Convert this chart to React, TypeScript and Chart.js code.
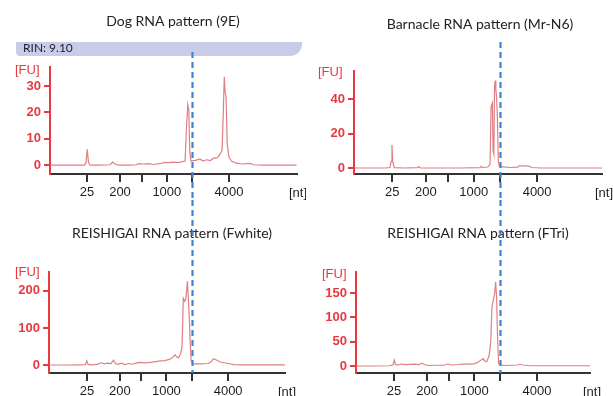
import React, { useEffect, useRef } from "react";
import { Chart, registerables } from "chart.js";

Chart.register(...registerables);

// ---- ladder (migration time positions of the size markers) ----
const LADDER_TIME = [26.5, 33.2, 37.6, 42.7, 47.9, 55.3];
const LADDER_LABELS = ["25", "200", "", "1000", "", "4000"];
const MARKER_INDEX = 4;

// ---- Dog RNA pattern (9E) ----
const DOG_T = [19.0, 22, 25, 26.0, 26.3, 26.55, 26.8, 27.1, 29, 31.2, 31.7, 32.3, 33, 35, 36.5, 37.0, 38, 39, 40, 41.5, 42.3, 43, 43.9, 45, 46.4, 46.7, 46.95, 47.15, 47.35, 47.6, 47.9, 48.5, 49.4, 50, 50.8, 51.5, 52.2, 53, 53.6, 53.9, 54.15, 54.35, 54.5, 54.7, 54.95, 55.3, 55.8, 56.8, 58, 59.6, 60.2, 62, 65, 69];
const DOG_FU = [0, 0, 0, 0, 1, 6, 1, 0, 0, 0.1, 1.1, 0.2, 0, 0, 0.1, 0.5, 0.4, 0.5, 0.2, 0.6, 1.0, 0.9, 1.1, 0.9, 1.5, 15, 23, 21, 5, 1.5, 1.7, 1.8, 2.3, 1.5, 2.0, 1.7, 2.6, 2.8, 4.5, 5.5, 20, 33.5, 28, 26, 8, 3, 1.5, 0.7, 0.4, 0.6, 0.1, 0, 0, 0];
const DOG_Y_TICKS = [0, 10, 20, 30];

// ---- Barnacle RNA pattern (Mr-N6) ----
const BARN_T = [19.1, 22, 25, 26.05, 26.3, 26.45, 26.6, 26.9, 29, 31.5, 31.75, 32.1, 35, 40, 44.0, 44.25, 44.5, 45.5, 45.95, 46.15, 46.4, 46.55, 46.7, 46.85, 46.98, 47.1, 47.25, 47.4, 47.6, 47.85, 50, 51.5, 51.7, 53.0, 53.8, 54.2, 56, 62, 68.3];
const BARN_FU = [0, 0, 0, 0.3, 4, 13.4, 4, 0.2, 0, 0.2, 0.9, 0.1, 0, 0, 0.2, 1.0, 0.3, 0.6, 2, 36, 38, 10, 8, 48, 51, 46, 41, 30, 3, 0.8, 0.3, 0.5, 1.2, 1.2, 1.0, 0.3, 0, 0, 0];
const BARN_Y_TICKS = [0, 20, 40];

// ---- REISHIGAI RNA pattern (Fwhite) ----
const FWHITE_T = [18.7, 22, 25, 26.2, 26.45, 26.7, 27.2, 28.5, 29.5, 30, 30.7, 31.4, 31.9, 32.3, 32.8, 33.5, 34.2, 35, 35.7, 36.5, 37.3, 38.2, 39.4, 40.5, 41.5, 42.4, 43.3, 44.0, 44.45, 44.8, 45.15, 45.6, 45.9, 46.15, 46.45, 46.7, 46.99, 47.2, 47.4, 47.55, 47.75, 48.2, 49.6, 51.2, 51.8, 52.3, 52.8, 53.7, 55.3, 56.5, 58, 62, 67];
const FWHITE_FU = [0, 0, 0.5, 1, 11, 2, 0.5, 1.5, 6, 3, 5, 4, 13, 4, 2, 5, 1, 4, 2, 5, 7, 6, 7, 9, 11, 12, 15, 20, 28, 22, 19, 30, 50, 180, 172, 180, 226, 175, 120, 60, 12, 3, 3, 4, 8, 17, 14, 8, 4, 1, 0.5, 0.5, 0.5];
const FWHITE_Y_TICKS = [0, 100, 200];

// ---- REISHIGAI RNA pattern (FTri) ----
const FTRI_T = [18.7, 22, 25.5, 26.3, 26.55, 26.8, 27.2, 28, 29, 30.5, 31.5, 32.2, 32.6, 33.5, 35, 36.5, 37.4, 38, 39.5, 40.5, 41.8, 42.8, 43.5, 44.0, 44.5, 44.8, 45.2, 45.7, 46.0, 46.25, 46.5, 46.78, 46.98, 47.18, 47.38, 47.58, 47.85, 49, 51.5, 51.9, 52.4, 54, 58, 66];
const FTRI_FU = [0, 0, 0.5, 2, 12, 3, 2, 4, 3, 4, 3, 6, 3, 1, 1.5, 1.5, 4, 2, 3, 4, 4, 5, 8, 12, 15, 10, 9, 22, 50, 122, 135, 149, 173, 142, 57, 5, 2, 1, 2, 4, 2, 0.5, 0.5, 0.5];
const FTRI_Y_TICKS = [0, 50, 100, 150];

const RED = "#e8393f";
const TRACE = "rgba(218, 104, 110, 0.85)";
const DARK = "#1e1e1e";
const BLUE = "#4282d2";
const TICK_FONT = "'Liberation Sans Narrow', 'Liberation Sans', Arial, sans-serif";
const TITLE_FONT = "Lato, 'Open Sans', sans-serif";

type PanelDef = {
  title: string;
  t: number[];
  fu: number[];
  yTicks: number[];
  yMin: number;
  yMax: number;
  xMin: number;
  xMax: number;
  box: { left: number; top: number; width: number; height: number };
  area: { left: number; top: number; right: number; bottom: number };
  titlePos: [number, number];
  fuPos: [number, number];
  ntPos: [number, number];
  dashFrom: number;
  dashToArea: boolean;
  rin?: string;
};

const PANELS: PanelDef[] = [
  {
    title: "Dog RNA pattern (9E)",
    t: DOG_T, fu: DOG_FU, yTicks: DOG_Y_TICKS,
    yMin: -3.4, yMax: 37.2, xMin: 19.0, xMax: 69.1,
    box: { left: 0, top: 0, width: 306, height: 200 },
    area: { left: 50, top: 67, right: 297, bottom: 174 },
    titlePos: [173, 21], fuPos: [15, 70], ntPos: [289, 193],
    dashFrom: 52, dashToArea: false, rin: "RIN: 9.10",
  },
  {
    title: "Barnacle RNA pattern (Mr-N6)",
    t: BARN_T, fu: BARN_FU, yTicks: BARN_Y_TICKS,
    yMin: -3.5, yMax: 56.6, xMin: 18.9, xMax: 68.2,
    box: { left: 306, top: 0, width: 307, height: 200 },
    area: { left: 48, top: 71, right: 296, bottom: 174 },
    titlePos: [174, 24], fuPos: [12, 72], ntPos: [289, 193],
    dashFrom: 42, dashToArea: false,
  },
  {
    title: "REISHIGAI RNA pattern (Fwhite)",
    t: FWHITE_T, fu: FWHITE_FU, yTicks: FWHITE_Y_TICKS,
    yMin: -21.6, yMax: 251, xMin: 18.75, xMax: 66.9,
    box: { left: 0, top: 200, width: 306, height: 196 },
    area: { left: 49, top: 72, right: 285, bottom: 173 },
    titlePos: [172, 33], fuPos: [15, 72], ntPos: [278, 192],
    dashFrom: 0, dashToArea: true,
  },
  {
    title: "REISHIGAI RNA pattern (FTri)",
    t: FTRI_T, fu: FTRI_FU, yTicks: FTRI_Y_TICKS,
    yMin: -14.4, yMax: 193, xMin: 18.85, xMax: 66.0,
    box: { left: 306, top: 200, width: 307, height: 196 },
    area: { left: 50, top: 72, right: 284, bottom: 173 },
    titlePos: [172, 33], fuPos: [16, 74], ntPos: [277, 192],
    dashFrom: 0, dashToArea: true,
  },
];

const Y_AXIS_W = 40;

function Panel({ p }: { p: PanelDef }) {
  const ref = useRef<HTMLCanvasElement>(null);
  useEffect(() => {
    const canvas = ref.current;
    if (!canvas) return;
    const xH = p.box.height - p.area.bottom;
    const deco = {
      id: "deco",
      beforeDraw(chart: any) {
        const ctx = chart.ctx as CanvasRenderingContext2D;
        ctx.save();
        if (p.rin) {
          ctx.fillStyle = "#c9cbe9";
          ctx.beginPath();
          (ctx as any).roundRect(16, 42, 286, 14, [0, 0, 12, 4]);
          ctx.fill();
          ctx.fillStyle = DARK;
          ctx.font = `12px ${TITLE_FONT}`;
          ctx.textAlign = "left";
          ctx.textBaseline = "middle";
          ctx.fillText(p.rin, 23, 48);
        }
        ctx.fillStyle = "#222";
        ctx.font = `14px ${TITLE_FONT}`;
        ctx.textAlign = "center";
        ctx.textBaseline = "middle";
        ctx.fillText(p.title, p.titlePos[0], p.titlePos[1]);
        ctx.fillStyle = RED;
        ctx.font = `13px ${TICK_FONT}`;
        ctx.textAlign = "left";
        ctx.fillText("[FU]", p.fuPos[0], p.fuPos[1]);
        ctx.fillStyle = DARK;
        ctx.fillText("[nt]", p.ntPos[0], p.ntPos[1]);
        ctx.restore();
      },
      afterDraw(chart: any) {
        const ctx = chart.ctx as CanvasRenderingContext2D;
        const x = Math.round(chart.scales.x.getPixelForValue(LADDER_TIME[MARKER_INDEX])) + 0.5;
        const y2 = p.dashToArea ? chart.chartArea.bottom : p.box.height;
        ctx.save();
        ctx.strokeStyle = BLUE;
        ctx.lineWidth = 2.2;
        ctx.setLineDash([6, 4]);
        ctx.beginPath();
        ctx.moveTo(x, p.dashFrom);
        ctx.lineTo(x, y2);
        ctx.stroke();
        ctx.restore();
      },
    };
    const chart = new Chart(canvas, {
      type: "line",
      data: {
        datasets: [
          {
            data: p.t.map((t, i) => ({ x: t, y: p.fu[i] })),
            borderColor: TRACE,
            borderWidth: 1.2,
            pointRadius: 0,
            tension: 0,
            fill: false,
          },
        ],
      },
      options: {
        responsive: false,
        animation: false,
        devicePixelRatio: 1,
        layout: {
          padding: {
            left: p.area.left - Y_AXIS_W,
            top: p.area.top,
            right: p.box.width - p.area.right,
            bottom: 0,
          },
        },
        plugins: { legend: { display: false }, tooltip: { enabled: false }, title: { display: false } },
        scales: {
          x: {
            type: "linear",
            min: p.xMin,
            max: p.xMax,
            afterBuildTicks: (s: any) => {
              s.ticks = LADDER_TIME.map((v) => ({ value: v }));
            },
            afterFit: (s: any) => {
              s.height = xH;
            },
            ticks: {
              autoSkip: false,
              maxRotation: 0,
              color: DARK,
              padding: 3,
              font: { family: TICK_FONT, size: 13 },
              callback: (_v: any, i: number) => LADDER_LABELS[i],
            },
            grid: { drawOnChartArea: false, drawTicks: true, tickLength: 8, color: "#333", tickColor: "#333", lineWidth: 2 },
            border: { display: true, color: "#333", width: 2 },
          },
          y: {
            type: "linear",
            min: p.yMin,
            max: p.yMax,
            afterBuildTicks: (s: any) => {
              s.ticks = p.yTicks.map((v) => ({ value: v }));
            },
            afterFit: (s: any) => {
              s.width = Y_AXIS_W;
            },
            ticks: {
              color: RED,
              padding: 3,
              font: { family: TICK_FONT, size: 13, weight: "bold" },
              callback: (v: any) => String(v),
            },
            grid: { drawOnChartArea: false, drawTicks: true, tickLength: 6, color: RED, tickColor: RED, lineWidth: 2 },
            border: { display: true, color: RED, width: 2 },
          },
        },
      },
      plugins: [deco],
    } as any);
    return () => chart.destroy();
  }, [p]);
  return (
    <canvas
      ref={ref}
      width={p.box.width}
      height={p.box.height}
      style={{ position: "absolute", left: p.box.left, top: p.box.top, width: p.box.width, height: p.box.height }}
    />
  );
}

export default function App() {
  return (
    <div style={{ position: "fixed", left: 0, top: 0, width: 613, height: 396, background: "#fff", overflow: "hidden" }}>
      {PANELS.map((p, i) => (
        <Panel key={i} p={p} />
      ))}
    </div>
  );
}
